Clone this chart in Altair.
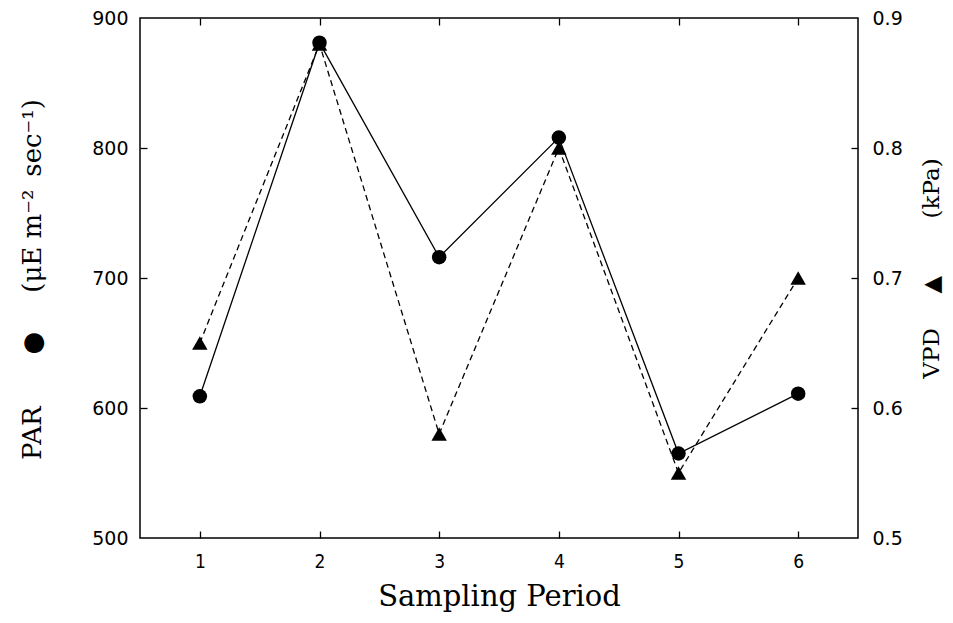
import altair as alt
import pandas as pd

# data
periods = [1, 2, 3, 4, 5, 6]
par = [609, 881, 716, 808, 565, 611]
vpd = [0.65, 0.88, 0.58, 0.80, 0.55, 0.70]

x_ticks = [1, 2, 3, 4, 5, 6]
par_labels = [500, 600, 700, 800, 900]
par_inner = [600, 700, 800]
vpd_labels = [0.5, 0.6, 0.7, 0.8, 0.9]
vpd_inner = [0.6, 0.7, 0.8]

df = pd.DataFrame({"period": periods, "par": par, "vpd": vpd})

xscale = alt.Scale(domain=[0.5, 6.5], nice=False, zero=False)
par_scale = alt.Scale(domain=[500, 900], nice=False, zero=False)
vpd_scale = alt.Scale(domain=[0.5, 0.9], nice=False, zero=False)

TICK_FONT = "DejaVu Sans"
X_TICK_FONT = "Liberation Sans Narrow, DejaVu Sans Condensed, Liberation Sans"
TITLE_FONT = "DejaVu Serif"
SP = "\u2003"
EN = "\u2002"

par_title = "PAR" + SP + SP + "\u25CF" + SP + EN + "(\u03BCE m\u207B\u00B2" + EN + "sec\u207B\u00B9)"
vpd_title = "VPD" + SP + EN + "\u25B2" + SP + SP + EN + "(kPa)"


def tick_axis(orient, values):
    return alt.Axis(orient=orient, values=values, labels=False, domain=False,
                    grid=False, ticks=True, tickSize=7, tickColor="black",
                    tickWidth=1.3, offset=-7, title=None)


x_label_axis = alt.Axis(orient="bottom", values=x_ticks, ticks=False, domain=False,
                        grid=False, labelFont=X_TICK_FONT, labelFontSize=19,
                        labelPadding=14, labelColor="black",
                        title="Sampling Period", titleFont=TITLE_FONT,
                        titleFontSize=29, titleFontWeight="normal",
                        titlePadding=11, titleColor="black")

par_label_axis = alt.Axis(orient="left", values=par_labels, ticks=False, domain=False,
                          grid=False, labelFont=TICK_FONT, labelFontSize=19,
                          labelPadding=12, labelColor="black",
                          title=par_title,
                          titleFont=TITLE_FONT, titleFontSize=26,
                          titleFontWeight="normal", titleColor="black",
                          titleAngle=270, titleX=-108, titleY=261,
                          titleAlign="center", titleBaseline="middle")

vpd_label_axis = alt.Axis(orient="right", values=vpd_labels, ticks=False, domain=False,
                          grid=False, labelFont=TICK_FONT, labelFontSize=19,
                          labelPadding=14, labelColor="black", format=".1f",
                          title=vpd_title,
                          titleFont=TITLE_FONT, titleFontSize=23,
                          titleFontWeight="normal", titleColor="black",
                          titleAngle=270, titleX=73, titleY=250,
                          titleAlign="center", titleBaseline="middle")

base = alt.Chart(df)

par_line = base.mark_line(color="black", strokeWidth=1.3).encode(
    x=alt.X("period:Q", scale=xscale, axis=x_label_axis),
    y=alt.Y("par:Q", scale=par_scale, axis=par_label_axis),
)

vpd_line = base.mark_line(color="black", strokeWidth=1.3, strokeDash=[6, 4]).encode(
    x=alt.X("period:Q", scale=xscale, axis=tick_axis("bottom", x_ticks)),
    y=alt.Y("vpd:Q", scale=vpd_scale, axis=vpd_label_axis),
)

vpd_pts = base.mark_point(shape="triangle-up", filled=True, color="black",
                          size=240, opacity=1).encode(
    x=alt.X("period:Q", scale=xscale, axis=tick_axis("top", x_ticks)),
    y=alt.Y("vpd:Q", scale=vpd_scale, axis=tick_axis("right", vpd_inner)),
)

par_pts = base.mark_point(shape="circle", filled=True, color="black",
                          size=210, opacity=1).encode(
    x=alt.X("period:Q", scale=xscale, axis=None),
    y=alt.Y("par:Q", scale=par_scale, axis=tick_axis("left", par_inner)),
)

chart = alt.layer(par_line, vpd_line, vpd_pts, par_pts).resolve_scale(
    y="independent"
).resolve_axis(
    x="independent", y="independent"
).properties(
    width=718, height=520,
    autosize=alt.AutoSizeParams(type="none"),
    padding={"left": 132, "top": 10, "right": 87, "bottom": 75},
    background="white",
).configure_view(
    stroke="black", strokeWidth=1.5
)

chart.save("out.html", embed_options={"renderer": "svg", "actions": False})
